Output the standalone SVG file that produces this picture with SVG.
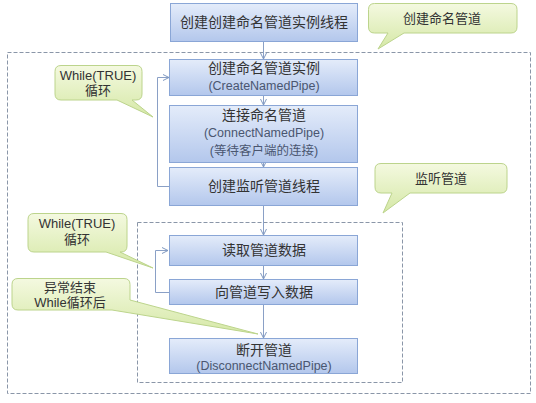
<svg xmlns="http://www.w3.org/2000/svg" width="536" height="403" viewBox="0 0 536 403">
<defs>
<linearGradient id="gBox" x1="0" y1="0" x2="0" y2="1">
<stop offset="0" stop-color="#e4ecfa"/>
<stop offset="1" stop-color="#b3c7ec"/>
</linearGradient>
<linearGradient id="gCall" x1="0" y1="0" x2="0" y2="1">
<stop offset="0" stop-color="#f4f9e0"/>
<stop offset="1" stop-color="#d5e8a6"/>
</linearGradient>
<marker id="arr" markerWidth="8" markerHeight="8" refX="7" refY="4" orient="auto" markerUnits="userSpaceOnUse">
<path d="M1,1 L7,4 L1,7" fill="none" stroke="#7f98c0" stroke-width="1"/>
</marker>
</defs>
<style>
.box{fill:url(#gBox);stroke:#8aa6d6;stroke-width:1}
.call{fill:url(#gCall);stroke:#bcd48c;stroke-width:1}
.frame{fill:none;stroke:#8a96a8;stroke-width:1;stroke-dasharray:4,2}
.t{font-family:"Liberation Sans","Noto Sans CJK SC",sans-serif;font-size:14px;fill:#333;text-anchor:middle}
.s{font-family:"Liberation Sans","Noto Sans CJK SC",sans-serif;font-size:12.5px;fill:#4a5670;text-anchor:middle}
.c{font-family:"Liberation Sans","Noto Sans CJK SC",sans-serif;font-size:13px;fill:#333;text-anchor:middle}
.ln{fill:none;stroke:#8aa0c6;stroke-width:1}
</style>
<rect width="536" height="403" fill="#ffffff"/>
<g id="frames">
<rect class="frame" x="7.5" y="52.5" width="523" height="341"/>
<rect class="frame" x="137.5" y="222.5" width="265" height="160"/>
</g>
<g id="connectors">
<line class="ln" x1="263.5" y1="41" x2="263.5" y2="59" marker-end="url(#arr)"/>
<line class="ln" x1="263.5" y1="95" x2="263.5" y2="105" marker-end="url(#arr)"/>
<line class="ln" x1="263.5" y1="162" x2="263.5" y2="167" marker-end="url(#arr)"/>
<line class="ln" x1="263.5" y1="205" x2="263.5" y2="235" marker-end="url(#arr)"/>
<line class="ln" x1="263.5" y1="265" x2="263.5" y2="279" marker-end="url(#arr)"/>
<line class="ln" x1="263.5" y1="304" x2="263.5" y2="338" marker-end="url(#arr)"/>
<polyline class="ln" points="170,186.5 157.5,186.5 157.5,77.5 169,77.5" marker-end="url(#arr)"/>
<polyline class="ln" points="169,292.5 155.5,292.5 155.5,250.5 168,250.5" marker-end="url(#arr)"/>
</g>
<g id="n-top">
<rect class="box" x="170.5" y="3.5" width="187" height="38"/>
<text class="t" x="264" y="27">创建创建命名管道实例线程</text>
</g>
<g id="n-create">
<rect class="box" x="169.5" y="59.5" width="188" height="36"/>
<text class="t" x="264" y="73">创建命名管道实例</text>
<text class="s" x="264" y="90">(CreateNamedPipe)</text>
</g>
<g id="n-connect">
<rect class="box" x="169.5" y="105.5" width="188" height="57"/>
<text class="t" x="264" y="120">连接命名管道</text>
<text class="s" x="264" y="137">(ConnectNamedPipe)</text>
<text class="s" x="264" y="155">(等待客户端的连接)</text>
</g>
<g id="n-listen">
<rect class="box" x="169.5" y="167.5" width="188" height="38"/>
<text class="t" x="264" y="191">创建监听管道线程</text>
</g>
<g id="n-read">
<rect class="box" x="169.5" y="235.5" width="188" height="30"/>
<text class="t" x="264" y="255">读取管道数据</text>
</g>
<g id="n-write">
<rect class="box" x="169.5" y="279.5" width="188" height="25"/>
<text class="t" x="264" y="297">向管道写入数据</text>
</g>
<g id="n-disconnect">
<rect class="box" x="169.5" y="338.5" width="188" height="35"/>
<text class="t" x="264" y="355">断开管道</text>
<text class="s" x="264" y="370">(DisconnectNamedPipe)</text>
</g>
<g id="c-create">
<path class="call" d="M374.5,3.5 H511 Q517,3.5 517,9.5 V27 Q517,33 511,33 H404 L378,49 L388,33 H374.5 Q368.5,33 368.5,27 V9.5 Q368.5,3.5 374.5,3.5 Z"/>
<text class="c" x="442" y="23">创建命名管道</text>
</g>
<g id="c-while1">
<path class="call" d="M61,65.5 H136 Q142,65.5 142,71.5 V94 Q142,100 136,100 H132 L153,117 L117,100 H61 Q55,100 55,94 V71.5 Q55,65.5 61,65.5 Z"/>
<text class="c" x="98" y="80">While(TRUE)</text>
<text class="c" x="98" y="95">循环</text>
</g>
<g id="c-listen">
<path class="call" d="M381,163.5 H501 Q507,163.5 507,169.5 V187 Q507,193 501,193 H410 L383,213 L392,193 H381 Q375,193 375,187 V169.5 Q375,163.5 381,163.5 Z"/>
<text class="c" x="441" y="183">监听管道</text>
</g>
<g id="c-while2">
<path class="call" d="M34,213.5 H121 Q127,213.5 127,219.5 V246 Q127,252 121,252 H120 L153,268 L106,252 H34 Q28,252 28,246 V219.5 Q28,213.5 34,213.5 Z"/>
<text class="c" x="77" y="228">While(TRUE)</text>
<text class="c" x="77" y="244">循环</text>
</g>
<g id="c-end">
<path class="call" d="M18,278.5 H124 Q130,278.5 130,284.5 V300 L258,334 L112,310 H18 Q12,310 12,304 V284.5 Q12,278.5 18,278.5 Z"/>
<text class="c" x="70" y="292">异常结束</text>
<text class="c" x="70" y="307">While循环后</text>
</g>
</svg>
